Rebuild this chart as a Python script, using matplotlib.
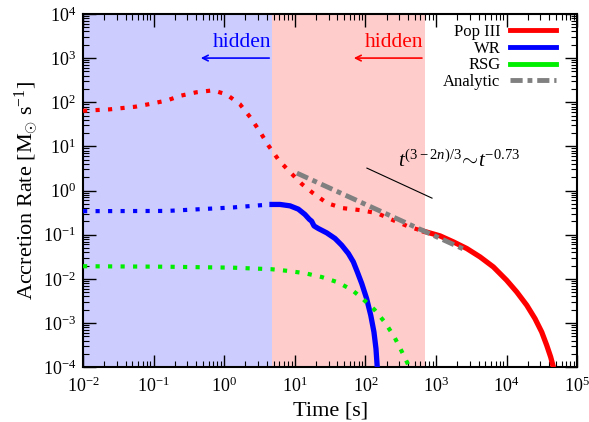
import numpy as np
import matplotlib
matplotlib.use("Agg")
from matplotlib import pyplot as plt
from matplotlib.lines import Line2D

plt.rcParams['font.family'] = ['Liberation Serif', 'DejaVu Serif']
plt.rcParams['mathtext.fontset'] = 'custom'
plt.rcParams['mathtext.rm'] = 'Liberation Serif'
plt.rcParams['mathtext.it'] = 'Liberation Serif:italic'
plt.rcParams['mathtext.bf'] = 'Liberation Serif:bold'

# time [s] and accretion rate [Msun/s]
popiii_t = [0.01, 0.0239, 0.055, 0.0927, 0.155, 0.239, 0.403, 0.693, 1.07, 1.66,
            2.34, 3.18, 4.27, 5.92, 8.55, 12.6, 18.1, 28.6, 48, 84, 146, 246, 429, 692,
            1140, 1760, 2720, 4200, 6490, 10000, 13900, 19300, 25200, 31400, 37000,
            42100, 45900]
popiii_rate = [64, 69, 79.1, 92.5, 110, 140, 168, 186, 151, 91,
               45.5, 21.9, 10.2, 4.89, 2.61, 1.40, 0.873, 0.518, 0.399, 0.36, 0.308, 0.213, 0.148, 0.118,
               0.094, 0.0687, 0.0487, 0.0314, 0.0186, 0.00929, 0.00505, 0.00252, 0.00126, 0.000625, 0.000312,
               0.000169, 0.0001]

wr_t = [0.01, 0.155, 1.33, 3.0, 4.75, 6.17, 8.55, 11.2, 13.9, 16.0, 17.3, 18.7, 21.5,
        28.3, 37.1, 46.1, 57.3, 67.4, 76.8, 88.7, 104, 119, 132, 141, 147]
wr_rate = [0.341, 0.345, 0.414, 0.46, 0.484, 0.484, 0.45, 0.379, 0.287, 0.224, 0.202, 0.158, 0.138,
           0.11, 0.082, 0.0578, 0.0375, 0.0242, 0.0143, 0.00781, 0.00357, 0.00149, 0.000625, 0.000263, 0.0001]

rsg_t = [0.01, 0.155, 1.33, 4.71, 8.09, 13.9, 24.0, 40.5, 64.6, 88.7, 134, 190, 257, 330, 419]
rsg_rate = [0.0193, 0.0188, 0.0179, 0.0165, 0.0151, 0.0134, 0.011, 0.00837, 0.0056, 0.00369,
            0.00201, 0.00102, 0.000482, 0.00022, 0.0001]

analytic_t = [10.7, 2400]
analytic_rate = [2.48, 0.048]

slope_t = [105, 877]
slope_rate = [3.22, 0.673]

hidden_wr = 4.75     # end of the blue (WR) hidden zone
hidden_popiii = 692  # end of the red (Pop III) hidden zone

x_ticks = [1e-2, 1e-1, 1e0, 1e1, 1e2, 1e3, 1e4, 1e5]
y_ticks = [1e-4, 1e-3, 1e-2, 1e-1, 1e0, 1e1, 1e2, 1e3, 1e4]

popiii_t, popiii_rate = np.array(popiii_t), np.array(popiii_rate)
wr_t, wr_rate = np.array(wr_t), np.array(wr_rate)

fig = plt.figure(figsize=(5.89, 4.22), dpi=100)
ax = fig.add_axes([0.141, 0.130, 0.839, 0.837])

ax.axvspan(1e-2, hidden_wr, color='#ccccff', lw=0, zorder=0)
ax.axvspan(hidden_wr, hidden_popiii, color='#ffcccc', lw=0, zorder=0)

dots = (0, (1, 2))
lw_dot = 3.0
lw_solid = 3.8

# Pop III
m = popiii_t <= hidden_popiii
ax.plot(popiii_t[m], popiii_rate[m], color='#ff0000', lw=lw_dot, ls=dots, zorder=3)
m = popiii_t >= hidden_popiii
ax.plot(popiii_t[m], popiii_rate[m], color='#ff0000', lw=lw_solid, zorder=3)

# WR
m = wr_t <= hidden_wr
ax.plot(wr_t[m], wr_rate[m], color='#0000ff', lw=lw_dot, ls=dots, zorder=3)
m = wr_t >= hidden_wr
ax.plot(wr_t[m], wr_rate[m], color='#0000ff', lw=lw_solid, zorder=3)

# RSG (all hidden)
ax.plot(rsg_t, rsg_rate, color='#00ee00', lw=lw_dot, ls=dots, zorder=3)

# analytic
ax.plot(analytic_t, analytic_rate, color='#808080', lw=3.5,
        dashes=(2.5, 1, 1, 1), zorder=4)

ax.plot(slope_t, slope_rate, color='black', lw=0.8, zorder=4)
ax.text(290, 3.4, r'$t^{\mathit{(3-2n)/3}}\!\sim\! t^{\mathit{-0.73}}$',
        fontsize=15, ha='left', va='baseline')

# hidden arrows
ax.annotate('', xy=(0.425, 1000), xytext=(hidden_wr, 1000),
            arrowprops=dict(arrowstyle='->', color='#0000ff', lw=1.2))
ax.text(4.6, 1350, 'hidden', color='#0000ff', fontsize=15.5, ha='right', va='bottom')
ax.annotate('', xy=(62.5, 1000), xytext=(hidden_popiii, 1000),
            arrowprops=dict(arrowstyle='->', color='#ff0000', lw=1.2))
ax.text(670, 1350, 'hidden', color='#ff0000', fontsize=15.5, ha='right', va='bottom')

ax.set_xscale('log')
ax.set_yscale('log')
ax.set_xticks(x_ticks)
ax.set_yticks(y_ticks)
ax.set_xlim(1e-2, 1e5)
ax.set_ylim(1e-4, 1e4)

ax.set_xlabel('Time [s]', fontsize=16)
ax.set_ylabel(r'Accretion Rate [M$_{\odot}$ s$^{\mathregular{-1}}$]', fontsize=16, labelpad=1)

ax.tick_params(which='both', direction='in', top=True, right=True, labelsize=13)
ax.tick_params(axis='x', pad=7)
ax.tick_params(axis='y', pad=5)
ax.tick_params(which='major', length=9, width=1)
ax.tick_params(which='minor', length=4.5, width=0.8)
ax.xaxis.set_minor_locator(matplotlib.ticker.LogLocator(base=10, subs=np.arange(2, 10), numticks=20))
ax.yaxis.set_minor_locator(matplotlib.ticker.LogLocator(base=10, subs=np.arange(2, 10), numticks=20))
ax.xaxis.set_minor_formatter(matplotlib.ticker.NullFormatter())
ax.yaxis.set_minor_formatter(matplotlib.ticker.NullFormatter())
for s in ax.spines.values():
    s.set_linewidth(1.5)

handles = [Line2D([], [], color='#ff0000', lw=3.5),
           Line2D([], [], color='#0000ff', lw=3.5),
           Line2D([], [], color='#00ee00', lw=3.5),
           Line2D([], [], color='#808080', lw=3.5, dashes=(2.5, 1, 1, 1))]
ax.legend(handles, ['Pop III', 'WR', 'RSG', 'Analytic'], loc='upper right',
          bbox_to_anchor=(0.971, 0.991),
          frameon=False, markerfirst=False, fontsize=12, handlelength=2.75,
          labelspacing=0.05, borderaxespad=0, handletextpad=0.6)

fig.savefig('out.png', dpi=100)
